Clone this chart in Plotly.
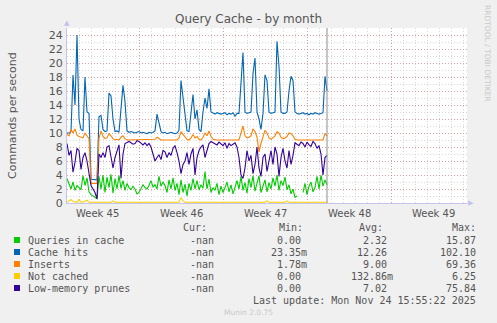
import plotly.graph_objects as go

# ---------------- data ----------------
series_names = ["Queries in cache", "Cache hits", "Inserts", "Not cached", "Low-memory prunes"]
series_colors = ["#00CC00", "#0066B3", "#FF8000", "#FFCC00", "#330099"]

# one sample every 4 hours, starting at the left edge of the graph (days)
n_samples = 131
sample_step_days = 4 / 24

cache_hits = [
    10.0, 10.0, 10.2, 18.3, 14.0, 24.0, 12.0, 10.5, 10.3, 18.0,
    13.0, 12.8, 3.4, 3.4, 3.3, 3.3, 12.3, 12.5, 10.5, 10.2,
    10.3, 15.7, 15.3, 12.0, 10.2, 10.3, 10.1, 13.0, 16.8, 14.5,
    10.3, 10.1, 10.2, 10.1, 10.0, 10.1, 10.2, 10.0, 10.1, 10.0,
    9.9, 10.1, 10.0, 10.1, 10.3, 12.7, 11.3, 10.2, 10.0, 10.1,
    9.9, 10.0, 10.1, 10.0, 9.9, 10.0, 10.4, 17.5, 15.3, 13.0,
    10.3, 10.2, 12.5, 15.5, 12.0, 13.3, 10.5, 10.2, 13.0, 15.0,
    13.5, 16.3, 13.0, 12.8, 12.7, 12.9, 12.8, 12.7, 12.8, 12.9,
    12.6, 12.8, 12.7, 12.9, 12.4, 12.8, 12.8, 18.0, 21.5, 13.0,
    12.8, 12.9, 13.0, 18.5, 20.7, 13.0, 12.0, 10.5, 12.8, 18.3,
    17.5, 13.0, 12.8, 12.9, 13.0, 23.1, 19.5, 13.0, 12.8, 12.8,
    13.0, 16.0, 18.1, 17.5, 13.0, 12.8, 12.7, 12.8, 12.9, 12.7,
    12.8, 12.6, 12.8, 12.7, 12.9, 12.8, 12.7, 12.8, 12.9, 18.1,
    16.0,
]

inserts = [
    9.8, 9.6, 10.5, 10.0, 10.6, 9.7, 9.5, 9.4, 9.3, 10.0,
    9.5, 9.2, 2.8, 2.8, 2.8, 2.8, 9.2, 10.3, 9.5, 9.2,
    9.3, 9.9, 9.6, 9.2, 9.0, 9.1, 9.0, 9.4, 9.6, 9.2,
    9.0, 9.0, 9.0, 9.0, 9.0, 9.0, 9.0, 9.0, 9.0, 9.0,
    9.0, 9.0, 9.0, 9.0, 9.1, 9.4, 9.2, 9.0, 9.0, 9.0,
    9.0, 9.0, 9.0, 9.0, 9.0, 9.0, 9.3, 10.2, 9.8, 9.4,
    9.1, 9.0, 9.3, 9.8, 9.3, 9.5, 9.1, 9.0, 9.4, 10.0,
    9.6, 10.3, 9.5, 9.1, 9.0, 9.0, 9.0, 9.0, 9.0, 9.0,
    9.0, 9.0, 9.0, 9.0, 9.0, 9.0, 9.0, 10.0, 11.0, 9.6,
    9.3, 9.4, 9.6, 10.6, 10.2, 9.4, 7.3, 8.5, 9.3, 10.4,
    10.0, 9.3, 9.1, 9.3, 9.6, 10.2, 10.0, 9.4, 9.2, 9.3,
    9.5, 10.0, 9.9, 9.6, 9.1, 9.0, 9.0, 9.0, 9.0, 9.0,
    9.0, 9.0, 9.0, 9.0, 9.0, 9.0, 9.0, 9.0, 9.0, 9.9,
    9.6,
]

not_cached = [
    0.1, 0.3, 0.5, 0.2, 0.1, 0.1, 0.5, 0.1, 0.1, 0.2,
    0.4, 0.1, 0.1, 0.1, 0.1, 0.1, 0.1, 0.1, 0.1, 0.1,
    0.1, 0.1, 0.1, 0.3, 0.1, 0.1, 0.1, 0.1, 0.1, 0.1,
    0.1, 0.1, 0.1, 0.1, 0.1, 0.1, 0.1, 0.1, 0.1, 0.1,
    0.1, 0.1, 0.1, 0.1, 0.1, 0.1, 0.1, 0.1, 0.1, 0.1,
    0.1, 0.1, 0.1, 0.1, 0.1, 0.1, 0.1, 0.8, 0.3, 0.1,
    0.1, 0.1, 0.2, 0.1, 0.1, 0.1, 0.1, 0.1, 0.1, 0.1,
    0.1, 0.1, 0.1, 0.1, 0.1, 0.1, 0.1, 0.1, 0.1, 0.1,
    0.1, 0.1, 0.1, 0.1, 0.1, 0.1, 0.1, 0.1, 0.1, 0.1,
    0.1, 0.1, 0.1, 0.1, 0.2, 0.1, 0.1, 0.1, 0.1, 0.1,
    0.3, 0.1, 0.1, 0.1, 0.1, 0.2, 0.1, 0.1, 0.1, 0.1,
    0.3, 0.1, 0.1, 0.1, 0.1, 0.1, 0.1, 0.1, 0.1, 0.1,
    0.1, 0.1, 0.2, 0.1, 0.1, 0.1, 0.1, 0.1, 0.1, 0.1,
    0.1,
]

queries_in_cache = [
    3.5, 2.6, 2.0, 3.0, 1.8, 2.5, 2.2, 1.9, 3.9, 2.5,
    3.6, 1.6, 1.2, 1.0, 0.8, 0.6, 3.8, 2.0, 4.0, 1.5,
    3.7, 2.2, 4.1, 1.4, 3.5, 2.0, 3.9, 2.1, 3.2, 1.8,
    2.8, 2.2, 1.9, 2.4, 2.0, 1.3, 1.5, 2.1, 2.6, 2.2,
    2.0, 2.5, 3.2, 2.3, 2.6, 2.0, 3.8, 2.4, 3.0, 2.5,
    1.5, 3.3, 2.0, 3.6, 1.8, 2.8, 1.2, 3.3, 1.5, 2.7,
    1.0, 2.8, 1.8, 3.5, 2.0, 3.2, 1.9, 2.6, 2.1, 4.5,
    2.0, 3.4, 1.5, 2.2, 1.8, 2.8, 1.2, 2.4, 1.5, 2.2,
    3.0, 1.6, 2.6, 1.3, 2.3, 3.2, 2.0, 3.8, 1.8, 2.9,
    1.4, 3.5, 2.2, 3.9, 1.7, 2.8, 3.9, 1.5, 2.5, 3.3,
    1.6, 2.9, 2.0, 3.6, 2.4, 4.0, 1.8, 3.2, 2.5, 3.7,
    1.9, 2.6, 1.3, 2.0, 0.8, 1.0, None, None, 1.5, 2.8,
    1.2, 2.4, 3.0, 1.6, 2.2, 3.8, 2.0, 4.0, 2.4, 3.3,
    2.6,
]

low_memory_prunes = [
    8.5, 6.8, 7.5, 4.4, 5.8, 7.8, 7.5, 4.8, 6.5, 7.2,
    6.0, 4.0, 2.5, 2.0, 1.5, 0.6, 7.0, 6.5, 7.2, 6.5,
    8.0, 8.2, 6.5, 5.0, 6.5, 7.5, 8.3, 3.5, 7.0, 8.5,
    8.6, 8.8, 8.6, 8.4, 8.5, 8.9, 8.8, 8.5, 8.3, 8.6,
    8.2, 8.5, 8.0, 7.0, 6.0, 6.5, 6.9, 6.2, 7.5, 7.3,
    6.5, 7.2, 6.8, 7.8, 8.2, 7.2, 6.0, 4.2, 5.5, 6.0,
    7.2, 5.5, 7.0, 7.8, 4.0, 6.5, 7.5, 8.0, 8.3, 6.5,
    7.5, 8.5, 8.8, 8.6, 8.5, 8.3, 8.7, 8.5, 8.2, 8.6,
    7.8, 8.5, 8.2, 8.4, 8.6, 8.0, 6.5, 4.0, 3.5, 5.0,
    7.5, 6.0, 6.8, 4.2, 5.5, 8.0, 5.0, 3.8, 6.5, 7.0,
    4.5, 6.0, 7.5, 5.5, 8.0, 7.0, 3.8, 6.5, 7.8, 6.0,
    5.0, 7.5, 5.5, 6.8, 8.6, 8.4, 8.2, 8.7, 8.5, 8.0,
    8.7, 8.3, 8.1, 8.8, 8.5, 7.8, 8.2, 7.0, 4.0, 6.5,
    6.8,
]

series_values = [queries_in_cache, cache_hits, inserts, not_cached, low_memory_prunes]

# legend statistics
cur_vals = ["-nan", "-nan", "-nan", "-nan", "-nan"]
min_vals = ["0.00", "23.35m", "1.78m", "0.00", "0.00"]
avg_vals = ["2.32", "12.26", "9.00", "132.86m", "7.02"]
max_vals = ["15.87", "102.10", "69.36", "6.25", "75.84"]

# axis
y_tick_values = list(range(0, 25, 2))
week_boundaries = [6, 13, 20, 27]
week_label_pos = [2.5, 9.5, 16.5, 23.5, 30.5]
week_labels = ["Week 45", "Week 46", "Week 47", "Week 48", "Week 49"]
x_range = [0, 400 / 12]
y_range = [0, 25]

title_text = "Query Cache - by month"
y_title = "Commands per second"
last_update = "Last update: Mon Nov 24 15:55:22 2025"
footer = "Munin 2.0.75"
side_text = "RRDTOOL / TOBI OETIKER"

# ---------------- figure ----------------
W, H = 497, 323
L, R, T, B = 67, 30, 28, 120
PW, PH = W - L - R, H - T - B

def px_x(px):
    return (px - L) / PW

def px_y(py):
    return (H - B - py) / PH

x_days = [i * sample_step_days for i in range(n_samples)]

fig = go.Figure()
for name, color, vals in zip(series_names, series_colors, series_values):
    fig.add_trace(go.Scatter(
        x=x_days, y=vals, mode="lines", name=name,
        line=dict(color=color, width=1.1), connectgaps=False,
        showlegend=False, hoverinfo="skip"))

TXT = "#555555"
MAJ = "rgba(230,110,110,0.55)"
MIN = "rgba(185,185,185,0.55)"
AXL = "#C4C4EC"

fig.update_layout(
    width=W, height=H,
    margin=dict(l=L, r=R, t=T, b=B, pad=0),
    paper_bgcolor="#F0F0F0", plot_bgcolor="#FFFFFF",
    font=dict(family="DejaVu Sans", color=TXT),
    title=dict(text=title_text, x=0.5, xref="container", xanchor="center",
               y=1 - 19 / H, yref="container", yanchor="middle",
               font=dict(size=12, color=TXT)),
    xaxis=dict(range=x_range, tickmode="array", tickvals=week_boundaries,
               showticklabels=False, ticks="", showgrid=True,
               gridcolor=MAJ, griddash="1px,2px", gridwidth=1,
               showline=True, linecolor=AXL, linewidth=1, zeroline=False,
               minor=dict(tickmode="linear", tick0=0, dtick=1, showgrid=True,
                          gridcolor=MIN, griddash="1px,2px", gridwidth=1)),
    yaxis=dict(range=y_range, tickmode="array", tickvals=y_tick_values,
               ticks="", ticklabelstandoff=1, tickfont=dict(size=11, color=TXT),
               showgrid=True, gridcolor=MAJ, griddash="1px,2px", gridwidth=1,
               showline=True, linecolor=AXL, linewidth=1, zeroline=False,
               minor=dict(tickmode="linear", tick0=0, dtick=1, showgrid=True,
                          gridcolor=MIN, griddash="1px,2px", gridwidth=1)),
)

# end-of-data rule
fig.add_vline(x=x_days[-1], line=dict(color="#8C8C8C", width=1))

ann = []
# week labels
for pos, lab in zip(week_label_pos, week_labels):
    ann.append(dict(x=pos, xref="x", y=px_y(213), yref="paper", text=lab,
                    showarrow=False, xanchor="center", yanchor="middle",
                    font=dict(size=10, color=TXT)))
# y-axis title
ann.append(dict(x=px_x(12), y=px_y(115), xref="paper", yref="paper", text=y_title,
                textangle=-90, showarrow=False, xanchor="center", yanchor="middle",
                font=dict(size=11, color=TXT)))
# side text
ann.append(dict(x=px_x(488), y=px_y(53), xref="paper", yref="paper", text=side_text,
                textangle=90, showarrow=False, xanchor="center", yanchor="middle",
                font=dict(size=7.5, color="#C8C8C8")))
# axis arrows
ann.append(dict(x=px_x(67), y=px_y(23), xref="paper", yref="paper", text="▲",
                showarrow=False, xanchor="center", yanchor="middle",
                font=dict(size=7, color="#C0C0F0")))
ann.append(dict(x=px_x(471), y=px_y(203), xref="paper", yref="paper", text="▶",
                showarrow=False, xanchor="center", yanchor="middle",
                font=dict(size=7, color="#C0C0F0")))

MONO = "DejaVu Sans Mono"
NB = "\u00a0"

def mono(px, py, text, anchor="right", color=TXT, size=10):
    ann.append(dict(x=px_x(px), y=px_y(py), xref="paper", yref="paper", text=text,
                    showarrow=False, xanchor=anchor, yanchor="middle",
                    borderpad=0, font=dict(family=MONO, size=size, color=color)))

def with_slot(v):
    return v if v[-1].isalpha() and v != "-nan" else v + NB

# header
mono(208, 227, "Cur:")
mono(304, 227, "Min:")
mono(384, 227, "Avg:")
mono(477, 227, "Max:")
row_y = [240, 252, 264, 276, 288]
for k in range(5):
    y = row_y[k]
    fig.add_shape(type="rect", xref="paper", yref="paper",
                  x0=px_x(14), x1=px_x(20), y0=px_y(y + 3), y1=px_y(y - 3),
                  fillcolor=series_colors[k], line=dict(width=0))
    mono(27, y, series_names[k], anchor="left")
    mono(215, y, cur_vals[k])
    mono(308, y, with_slot(min_vals[k]))
    mono(394, y, with_slot(avg_vals[k]))
    mono(483, y, with_slot(max_vals[k]))
mono(477, 300, last_update)
ann.append(dict(x=px_x(248), y=px_y(312), xref="paper", yref="paper", text=footer,
                showarrow=False, xanchor="center", yanchor="middle",
                font=dict(size=7.5, color="#C8C8C8")))

fig.update_layout(annotations=ann)
fig.write_html("out.html")
